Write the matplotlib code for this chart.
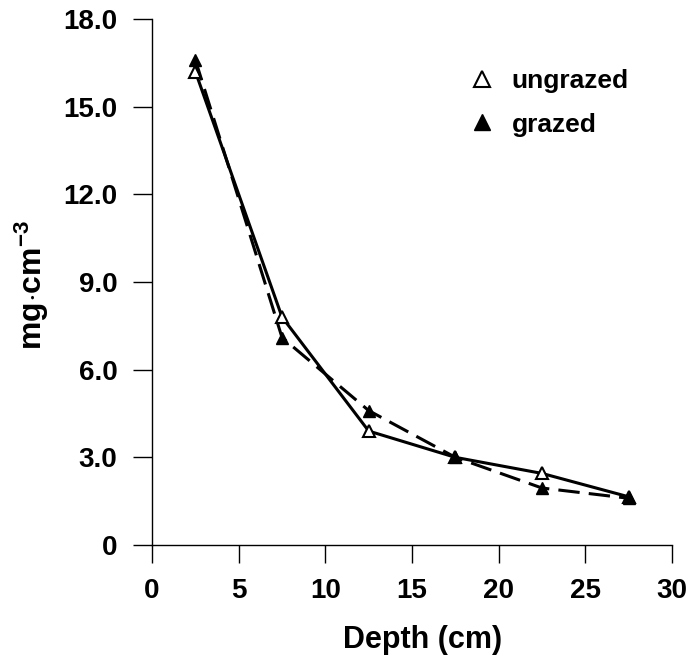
import numpy as np
from matplotlib import pyplot as plt
from matplotlib.lines import Line2D

# depth midpoints (cm)
depth = [2.5, 7.5, 12.5, 17.5, 22.5, 27.5]
ungrazed = [16.2, 7.8, 3.9, 3.0, 2.45, 1.65]
grazed = [16.6, 7.1, 4.6, 3.0, 1.95, 1.6]

x_ticks = [0, 5, 10, 15, 20, 25, 30]
y_ticks = [0, 3, 6, 9, 12, 15, 18]
y_tick_labels = ["0", "3.0", "6.0", "9.0", "12.0", "15.0", "18.0"]

plt.rcParams['font.family'] = ['Liberation Sans', 'DejaVu Sans']
plt.rcParams['font.weight'] = 'bold'
plt.rcParams['mathtext.fontset'] = 'custom'
plt.rcParams['mathtext.rm'] = 'Liberation Sans:bold'
plt.rcParams['mathtext.bf'] = 'Liberation Sans:bold'
plt.rcParams['mathtext.it'] = 'Liberation Sans:bold'

fig = plt.figure(figsize=(6.92, 6.58), dpi=100)
ax = fig.add_axes([0.2197, 0.1717, 0.7514, 0.7995])

ax.plot(depth, ungrazed, color='black', lw=2.2, ls='-', marker='^',
        markersize=8, markerfacecolor='white', markeredgecolor='black',
        markeredgewidth=1.5, zorder=3)
ax.plot(depth, grazed, color='black', lw=2.2, ls=(0, (7, 3)), marker='^',
        markersize=8, markerfacecolor='black', markeredgecolor='black', zorder=3)

ax.set_xlim(0, 30)
ax.set_ylim(0, 18)
ax.set_xticks(x_ticks)
ax.set_yticks(y_ticks)
ax.set_yticklabels(y_tick_labels)

for s in ['top', 'right']:
    ax.spines[s].set_visible(False)
for s in ['left', 'bottom']:
    ax.spines[s].set_linewidth(1.0)

ax.tick_params(axis='y', direction='out', length=14, width=1, pad=11, labelsize=20)
ax.tick_params(axis='x', direction='out', length=13, width=1, pad=11, labelsize=20)
for lab in ax.get_xticklabels() + ax.get_yticklabels():
    lab.set_fontweight('bold')

ax.set_xlabel("Depth (cm)", fontsize=22, fontweight='bold')
ax.xaxis.set_label_coords(0.52, -0.152)
ax.set_ylabel(r"mg$\cdot$cm$^{-3}$", fontsize=23, fontweight='bold')
ax.yaxis.set_label_coords(-0.195, 0.495)

handles = [
    Line2D([], [], ls='none', marker='^', markersize=11, markerfacecolor='white',
           markeredgecolor='black', markeredgewidth=1.5, label='ungrazed'),
    Line2D([], [], ls='none', marker='^', markersize=11, markerfacecolor='black',
           markeredgecolor='black', label='grazed'),
]
leg = ax.legend(handles=handles, loc='upper left', bbox_to_anchor=(0.61, 0.905),
                frameon=False, handlelength=1.0, handletextpad=0.6,
                labelspacing=0.75, borderpad=0, borderaxespad=0,
                prop={'size': 19, 'weight': 'bold'})

fig.savefig("out.png", dpi=100)
